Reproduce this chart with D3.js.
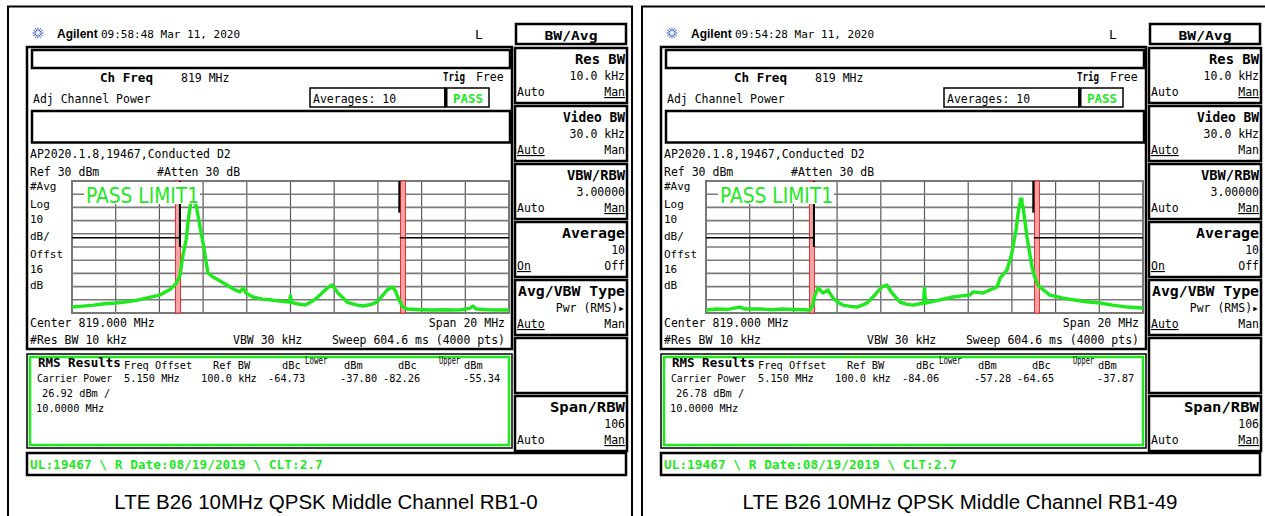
<!DOCTYPE html>
<html>
<head>
<meta charset="utf-8">
<script src="https://cdn.jsdelivr.net/npm/d3@7"></script>
<style>
  body { margin: 0; background: #fff; }
  svg text { font-family: "DejaVu Sans Mono", monospace; fill: #000; }
</style>
</head>
<body>
<svg id="chart" width="1265" height="516"></svg>
<script>
// ---- data ----
const captions = ["LTE B26 10MHz QPSK Middle Channel RB1-0", "LTE B26 10MHz QPSK Middle Channel RB1-49"];
const times = ["09:58:48  Mar 11, 2020", "09:54:28  Mar 11, 2020"];
const carrierPower = ["26.92 dBm /", "26.78 dBm /"];
const lowerDbc = ["-64.73", "-84.06"];
const lowerDbm = ["-37.80", "-57.28"];
const upperDbc = ["-82.26", "-64.65"];
const upperDbm = ["-55.34", "-37.87"];

// trace: frequency offset from 819 MHz (MHz) and level (dBm)
const leftFreq = [-10, -9.5, -9, -8.5, -8, -7.5, -7, -6.5, -6, -5.5, -5.25, -5.06, -4.92, -4.78, -4.65, -4.55, -4.44, -4.3, -4.15, -4.0, -3.78, -3.55, -3.2, -2.91, -2.6, -2.31, -2.17, -2.04, -1.72, -1.3, -0.94, -0.5, -0.05, 0, 0.05, 0.3, 0.66, 0.95, 1.21, 1.49, 1.7, 1.9, 2.05, 2.17, 2.4, 2.59, 3.0, 3.32, 3.7, 3.96, 4.2, 4.42, 4.65, 4.8, 4.87, 5.01, 5.15, 5.33, 6, 6.5, 7, 7.3, 7.8, 8.2, 8.35, 8.5, 9, 9.5, 10];
const leftLevel = [-65.5, -64.8, -64, -63, -62.4, -61.5, -60.2, -58.3, -56.5, -52, -48, -42, -26, -14.7, 4, 15, 17, 10, -4, -17, -39.7, -42.7, -46, -48.8, -52, -54, -51, -54.8, -57.9, -59.5, -60, -61, -61.7, -57, -62, -63, -64, -61.5, -58.6, -54, -51, -48.8, -52, -54.8, -58.5, -61.7, -63.8, -64.7, -63.5, -61.7, -57, -52.6, -50.3, -53, -56.4, -61.7, -65.5, -67, -67.5, -67.7, -67.5, -67.7, -67.5, -66.5, -64.7, -67, -67.5, -67.7, -67.7];

const rightFreq = [-10, -9.5, -9, -8.45, -8.2, -7.5, -7, -6.5, -6, -5.5, -5.25, -5.11, -5.01, -4.87, -4.75, -4.65, -4.42, -4.19, -3.95, -3.73, -3.4, -3.09, -2.85, -2.63, -2.36, -2.1, -1.95, -1.72, -1.6, -1.49, -1.12, -0.8, -0.53, -0.05, 0, 0.05, 0.71, 1.3, 1.7, 2.08, 2.22, 2.68, 3.0, 3.32, 3.46, 3.78, 4.0, 4.19, 4.32, 4.42, 4.51, 4.69, 4.92, 5.06, 5.19, 5.4, 5.74, 6.3, 6.8, 7.4, 8.03, 8.6, 9.27, 10];
const rightLevel = [-67.7, -67, -67.3, -65.5, -67, -67, -67.5, -67, -67.3, -67.5, -67.7, -64, -56.4, -51, -53, -54.8, -52.6, -58.6, -62, -64, -65, -65.5, -64, -62.4, -57.9, -53, -50.3, -48.8, -52, -54.8, -61.7, -63.5, -64, -62.4, -51, -62.4, -60, -57.9, -57, -56.4, -54, -54.8, -52.5, -50.3, -43.5, -37.4, -24.5, -7.1, 10.3, 15.6, 10.3, -12.4, -35.2, -43.5, -48.8, -52, -56.4, -58.5, -60, -61.5, -62.4, -64, -65.5, -66.2];

const freqTicks = d3.range(-10, 11, 2);
const levelTicks = d3.range(-70, 31, 10);
const channelEdge = 5.15;   // MHz
const limitLevel = -13;     // dBm

const GREEN = "#1fe81f";
const svg = d3.select("#chart");

function txt(g, x, y, s, opt = {}) {
  const t = g.append("text").attr("x", x).attr("y", y).text(s)
    .style("font-size", (opt.size || 11.5) + "px");
  if (opt.bold) t.style("font-weight", "bold");
  if (opt.anchor) t.attr("text-anchor", opt.anchor);
  if (opt.fill) t.style("fill", opt.fill);
  if (opt.family) t.style("font-family", opt.family);
  if (opt.len) t.attr("textLength", opt.len).attr("lengthAdjust", "spacingAndGlyphs");
  return t;
}

// narrow superscript-like label, squeezed horizontally
function narrow(g, x, y, s, sx) {
  return g.append("text").attr("transform", `translate(${x},${y}) scale(${sx},1)`)
    .text(s).style("font-size", "10px");
}

function box(g, x, y, w, h, sw = 2.5, stroke = "#000") {
  return g.append("rect").attr("x", x).attr("y", y).attr("width", w).attr("height", h)
    .attr("fill", "none").attr("stroke", stroke).attr("stroke-width", sw);
}

function drawPanel(i, freq, level) {
  const g = svg.append("g").attr("transform", `translate(${i * 634},0)`);

  // outer frame
  box(g, 8, 6.5, 624, 520, 2);

  // Agilent logo
  const logo = g.append("g").attr("transform", "translate(38,33)");
  d3.range(0, 360, 30).forEach(a => {
    const r = a * Math.PI / 180;
    logo.append("line").attr("x1", 2 * Math.cos(r)).attr("y1", 2 * Math.sin(r))
      .attr("x2", 5.5 * Math.cos(r)).attr("y2", 5.5 * Math.sin(r))
      .attr("stroke", "#3b5bd0").attr("stroke-width", 1);
  });
  txt(g, 57, 38, "Agilent", { bold: true, size: 12, family: "Liberation Sans, Arial, sans-serif" });
  txt(g, 101, 38, times[i], { size: 11 });
  txt(g, 475, 39, "L", { size: 13 });

  // main screen frame and header boxes
  box(g, 27, 47, 485, 302);
  box(g, 32, 50, 478, 18);
  txt(g, 100, 82, "Ch Freq", { bold: true, size: 12.5, len: 53 });
  txt(g, 181, 82, "819 MHz");
  txt(g, 443, 81, "Trig", { bold: true, size: 12.5, len: 22 });
  txt(g, 476, 81, "Free");
  txt(g, 33, 103, "Adj Channel Power");
  box(g, 310, 88, 135, 19, 1.5);
  txt(g, 313, 103, "Averages: 10");
  box(g, 445, 88, 44, 19, 1.5);
  g.append("line").attr("x1", 446).attr("x2", 446).attr("y1", 88).attr("y2", 107)
    .attr("stroke", "#000").attr("stroke-width", 3);
  txt(g, 468, 103, "PASS", { bold: true, size: 12.5, anchor: "middle", fill: GREEN });
  box(g, 32, 111, 478, 31.5);
  txt(g, 30, 158, "AP2020.1.8,19467,Conducted D2");
  txt(g, 30, 176, "Ref 30 dBm");
  txt(g, 157, 176, "#Atten 30 dB");

  [["#Avg", 190], ["Log", 208], ["10", 223], ["dB/", 240], ["Offst", 258], ["16", 273], ["dB", 289]]
    .forEach(d => txt(g, 30, d[1], d[0], { size: 11 }));

  // ---- spectrum plot ----
  const x = d3.scaleLinear().domain([-10, 10]).range([72, 509]);
  const y = d3.scaleLinear().domain([-70, 30]).range([313, 181]);

  const grid = g.append("g");
  grid.selectAll(".v").data(freqTicks).enter().append("line")
    .attr("x1", d => x(d)).attr("x2", d => x(d)).attr("y1", y(30)).attr("y2", y(-70))
    .attr("stroke", "#5a5a5a").attr("stroke-width", 1.2);
  grid.selectAll(".h").data(levelTicks).enter().append("line")
    .attr("x1", x(-10)).attr("x2", x(10)).attr("y1", d => y(d)).attr("y2", d => y(d))
    .attr("stroke", "#7a7a7a").attr("stroke-width", 1.6);
  box(g, x(-10), y(30), x(10) - x(-10), y(-70) - y(30), 2, "#777");

  // channel edges (red bands)
  [-channelEdge, channelEdge].forEach(f => {
    g.append("rect").attr("x", x(f) - 2.5).attr("y", y(30)).attr("width", 5).attr("height", y(-70) - y(30))
      .attr("fill", "#f3a3a3").attr("stroke", "#e82020").attr("stroke-width", 0.9);
  });

  // limit lines
  const lim = g.append("g").attr("stroke", "#000").attr("stroke-width", 1.5);
  lim.append("line").attr("x1", x(-10)).attr("x2", x(-5.06)).attr("y1", y(limitLevel)).attr("y2", y(limitLevel));
  lim.append("line").attr("x1", x(5.0)).attr("x2", x(10)).attr("y1", y(limitLevel)).attr("y2", y(limitLevel));
  lim.append("line").attr("x1", x(-5.06)).attr("x2", x(-5.06)).attr("y1", y(30)).attr("y2", y(-20)).attr("stroke-width", 2);
  lim.append("line").attr("x1", x(4.98)).attr("x2", x(4.98)).attr("y1", y(30)).attr("y2", y(6)).attr("stroke-width", 2);

  // trace
  const pts = freq.map((f, k) => [f, level[k]]);
  g.append("path").datum(pts)
    .attr("d", d3.line().x(d => x(d[0])).y(d => y(d[1])))
    .attr("fill", "none").attr("stroke", GREEN).attr("stroke-width", 3.4)
    .attr("stroke-linejoin", "round");
  const peak = pts.reduce((a, b) => (b[1] > a[1] ? b : a));
  g.append("rect").attr("x", x(peak[0]) - 2.5).attr("y", y(peak[1]) - 2.5)
    .attr("width", 5).attr("height", 5).attr("fill", GREEN);

  // PASS LIMIT1 label
  g.append("rect").attr("x", 84).attr("y", 182).attr("width", 116).attr("height", 22).attr("fill", "#fff");
  txt(g, 86, 203, "PASS LIMIT1", { size: 22, fill: GREEN, family: "DejaVu Sans Condensed, DejaVu Sans, sans-serif", len: 113 });

  txt(g, 30, 327, "Center 819.000 MHz");
  txt(g, 505, 327, "Span 20 MHz", { anchor: "end" });
  txt(g, 30, 344, "#Res BW 10 kHz");
  txt(g, 233, 344, "VBW 30 kHz");
  txt(g, 505, 344, "Sweep 604.6 ms (4000 pts)", { anchor: "end" });

  // RMS results
  box(g, 27, 354, 485, 94, 1.5);
  box(g, 30, 357, 479, 88, 2.5, GREEN);
  txt(g, 38, 367, "RMS Results", { bold: true, size: 12.5 });
  const s = 10.3;
  txt(g, 124, 369, "Freq Offset", { size: s });
  txt(g, 213, 369, "Ref BW", { size: s });
  txt(g, 282, 369, "dBc", { size: s });
  narrow(g, 305, 364, "Lower", 0.75);
  txt(g, 344, 369, "dBm", { size: s });
  txt(g, 398, 369, "dBc", { size: s });
  narrow(g, 439, 364, "Upper", 0.7);
  txt(g, 464, 369, "dBm", { size: s });
  txt(g, 37, 382, "Carrier Power", { size: 9.6 });
  txt(g, 124, 382, "5.150 MHz", { size: s });
  txt(g, 201, 382, "100.0 kHz", { size: s });
  txt(g, 268, 382, lowerDbc[i], { size: s });
  txt(g, 340, 382, lowerDbm[i], { size: s });
  txt(g, 383, 382, upperDbc[i], { size: s });
  txt(g, 463, 382, upperDbm[i], { size: s });
  txt(g, 42, 397, carrierPower[i], { size: s });
  txt(g, 36, 412, "10.0000 MHz", { size: s });

  // status line
  box(g, 27, 453, 599, 22);
  txt(g, 30, 469, "UL:19467 \\ R Date:08/19/2019 \\ CLT:2.7", { bold: true, size: 12.8, fill: GREEN });

  // softkeys
  box(g, 516, 24, 110, 20);
  txt(g, 571 - 26.5, 40, "BW/Avg", { bold: true, size: 13, len: 53 });
  const keys = [
    { t: "Res BW", w: 50, v: "10.0 kHz", l: "Auto", r: "Man", u: "r" },
    { t: "Video BW", w: 62, v: "30.0 kHz", l: "Auto", r: "Man", u: "l" },
    { t: "VBW/RBW", w: 58, v: "3.00000", l: "Auto", r: "Man", u: "r" },
    { t: "Average", w: 63, v: "10", l: "On", r: "Off", u: "l" },
    { t: "Avg/VBW Type", w: 107, v: "Pwr (RMS)\u25B8", l: "Auto", r: "Man", u: "l" },
    null,
    { t: "Span/RBW", w: 75, v: "106", l: "Auto", r: "Man", u: "r" }
  ];
  keys.forEach((k, j) => {
    const top = 48 + 58 * j;
    box(g, 515, top, 112, 55);
    if (!k) return;
    txt(g, 625 - k.w, top + 16, k.t, { bold: true, size: 13.5, len: k.w });
    txt(g, 625, top + 32, k.v, { anchor: "end" });
    const lt = txt(g, 517, top + 48, k.l);
    const rt = txt(g, 625, top + 48, k.r, { anchor: "end" });
    const ul = k.u === "l" ? lt : rt;
    ul.style("text-decoration", "underline");
  });

  // caption
  txt(g, 326, 509, captions[i], { size: 20.5, anchor: "middle", family: "Liberation Sans, Arial, sans-serif" });
}

drawPanel(0, leftFreq, leftLevel);
drawPanel(1, rightFreq, rightLevel);
</script>
</body>
</html>
